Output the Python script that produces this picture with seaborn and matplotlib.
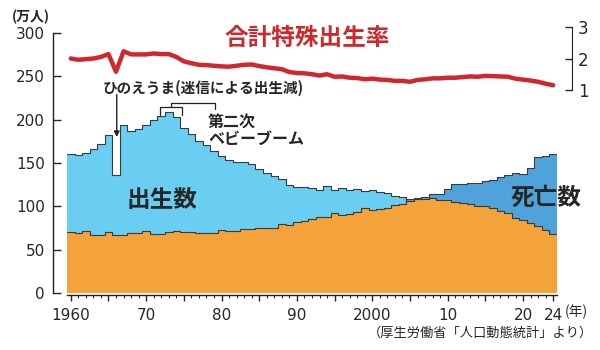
import numpy as np
import pandas as pd
import matplotlib.pyplot as plt
import seaborn as sns

# --- データ (万人) ---
YEARS = list(range(1960, 2025))

BIRTHS = [160.6, 158.9, 161.9, 165.9, 171.7, 182.4, 136.1, 193.6, 187.2, 188.9,
          193.4, 200.1, 203.9, 209.2, 203.0, 190.1, 183.3, 175.5, 170.9, 164.3,
          157.7, 152.9, 151.5, 150.9, 149.0, 143.2, 138.3, 134.7, 131.4, 124.7,
          122.2, 122.3, 120.9, 118.8, 123.8, 118.7, 120.7, 119.2, 120.3, 117.8,
          119.1, 117.1, 115.4, 112.4, 111.1, 106.3, 109.3, 109.0, 109.1, 107.0,
          107.1, 105.1, 103.7, 103.0, 100.4, 100.6, 97.7, 94.6, 91.8, 86.5,
          84.1, 81.2, 77.1, 72.7, 68.6]

DEATHS = [70.7, 69.6, 71.0, 67.1, 67.3, 70.0, 67.0, 67.5, 68.7, 69.4,
          71.3, 68.5, 68.4, 70.9, 71.1, 70.2, 70.3, 69.0, 69.6, 69.0,
          72.3, 72.0, 71.2, 74.0, 74.0, 75.2, 75.1, 75.1, 79.3, 78.9,
          82.0, 83.0, 85.7, 87.9, 87.6, 92.2, 89.6, 91.3, 93.6, 98.2,
          96.2, 97.0, 98.2, 101.5, 102.9, 108.4, 108.4, 110.9, 114.2, 114.2,
          119.7, 125.3, 125.6, 126.8, 127.3, 129.0, 130.8, 134.0, 136.2, 138.1,
          137.3, 144.0, 156.9, 157.6, 160.5]

# 合計特殊出生率
TFR = [2.00, 1.96, 1.98, 2.00, 2.05, 2.14, 1.58, 2.23, 2.13, 2.13,
       2.13, 2.16, 2.14, 2.14, 2.05, 1.91, 1.85, 1.80, 1.79, 1.77,
       1.75, 1.74, 1.77, 1.80, 1.81, 1.76, 1.72, 1.69, 1.66, 1.57,
       1.54, 1.53, 1.50, 1.46, 1.50, 1.42, 1.43, 1.39, 1.38, 1.34,
       1.36, 1.33, 1.32, 1.29, 1.29, 1.26, 1.32, 1.34, 1.37, 1.37,
       1.39, 1.39, 1.41, 1.43, 1.42, 1.45, 1.44, 1.43, 1.42, 1.36,
       1.33, 1.30, 1.26, 1.20, 1.15]

XTICKS = [1960, 1965, 1970, 1975, 1980, 1985, 1990, 1995, 2000, 2005,
          2010, 2015, 2020, 2024]
XTICK_LABELS = ["1960", "", "70", "", "80", "", "90", "", "2000", "",
                "10", "", "20", "24"]

# --- 色 ---
C_BIRTH = "#6acdf2"
C_DEATH = "#4fa3da"
C_OVER = "#f4a33b"
C_RED = "#d0272d"
JP = ["Noto Sans CJK JP", "DejaVu Sans"]

sns.set_style("white")
plt.rcParams["font.family"] = ["DejaVu Sans", "Noto Sans CJK JP"]

df = pd.DataFrame({"year": YEARS, "births": BIRTHS, "deaths": DEATHS, "tfr": TFR})
df["high"] = df[["births", "deaths"]].max(axis=1)
df["low"] = df[["births", "deaths"]].min(axis=1)
df["side"] = np.where(df["births"] >= df["deaths"], "b", "d")

fig = plt.figure(figsize=(6, 3.5), dpi=100)
ax = fig.add_axes([67 / 600, 57 / 350, 490 / 600, 273 / 350])

# 上側 (出生 or 死亡の多い方)
sns.barplot(data=df, x="year", y="high", hue="side",
            palette={"b": C_BIRTH, "d": C_DEATH}, native_scale=True,
            width=1, dodge=False, saturation=1, linewidth=0,
            errorbar=None, legend=False, ax=ax)
# 重なり部分
sns.barplot(data=df, x="year", y="low", color=C_OVER, native_scale=True,
            width=1, saturation=1, linewidth=0, errorbar=None, ax=ax)

# 輪郭 (階段状)
yrs = np.r_[df["year"].iloc[0] - 0.5, df["year"], df["year"].iloc[-1] + 0.5]
for col in ["births", "deaths"]:
    v = np.r_[df[col].iloc[0], df[col], df[col].iloc[-1]]
    ax.plot(yrs, v, drawstyle="steps-mid", color="#3a3a3a", lw=0.8)

ax.set_xlim(1959.5, 2024.5)
ax.set_ylim(0, 315)
ax.set_xlabel("")
ax.set_ylabel("")

ax.set_yticks([0, 50, 100, 150, 200, 250, 300])
ax.set_xticks(XTICKS, XTICK_LABELS)
ax.set_xticks(YEARS, minor=True)
ax.tick_params(axis="y", direction="in", length=6, width=1, pad=6,
               labelsize=11, left=True)
ax.tick_params(axis="x", which="major", direction="out", length=4, width=1,
               pad=5, labelsize=11, bottom=True)
ax.tick_params(axis="x", which="minor", direction="out", length=2.5, width=0.8,
               bottom=True)
for s in ["top", "right"]:
    ax.spines[s].set_visible(False)
ax.spines["left"].set_position(("outward", 10))
ax.spines["left"].set_bounds(0, 300)
ax.spines["bottom"].set_position(("outward", 1.5))
for s in ["left", "bottom"]:
    ax.spines[s].set_color("#222222")
    ax.spines[s].set_linewidth(1)

# 合計特殊出生率 (右軸)
ax2 = ax.twinx()
sns.lineplot(data=df, x="year", y="tfr", color=C_RED, lw=3.2, ax=ax2)
ax2.set_ylim(1 - 203 / 31.5, 3 + 7 / 31.5)
ax2.set_yticks([1, 2, 3])
ax2.set_ylabel("")
ax2.tick_params(axis="y", direction="in", length=5, width=1, pad=4,
                labelsize=12, right=True)
for s in ["top", "left", "bottom"]:
    ax2.spines[s].set_visible(False)
ax2.spines["right"].set_position(("outward", 11))
ax2.spines["right"].set_bounds(1, 3)
ax2.spines["right"].set_color("#222222")

# --- テキスト ---
fig.text(307 / 600, 1 - 38 / 350, "合計特殊出生率", color=C_RED, fontsize=17,
         fontweight="bold", ha="center", va="center", family=JP)
fig.text(12 / 600, 1 - 17 / 350, "(万人)", fontsize=10, fontweight="bold",
         ha="left", va="center", family=JP)
fig.text(593 / 600, 1 - 333 / 350, "（厚生労働省「人口動態統計」より）", fontsize=9.5,
         ha="right", va="center", family=JP)
fig.text(565 / 600, 1 - 312 / 350, "(年)", fontsize=10, ha="left", va="center",
         family=JP)

ax.text(1972.1, 107, "出生数", fontsize=17, fontweight="bold", ha="center",
        va="center", family=JP)
ax.text(2023.0, 110, "死亡数", fontsize=17, fontweight="bold", ha="center",
        va="center", family=JP, clip_on=False)

ax.annotate("", xy=(1966.1, 180), xytext=(1966.1, 229),
            arrowprops=dict(arrowstyle="-|>", color="#222222", lw=1,
                            mutation_scale=8, shrinkA=0, shrinkB=0))
ax.text(1964.3, 237, "ひのえうま(迷信による出生減)", fontsize=10.5,
        fontweight="bold", ha="left", va="center", family=JP)

# 第二次ベビーブームの括弧
ax.plot([1971.8, 1971.8, 1974.7, 1974.7], [205.4, 214.3, 214.3, 205.4],
        color="#222222", lw=0.9)
ax.plot([1973.3, 1973.3, 1979.1, 1979.1], [214.3, 219.2, 219.2, 212.3],
        color="#222222", lw=0.9)
ax.text(1978.2, 187, "第二次\nベビーブーム", fontsize=11.5, fontweight="bold",
        ha="left", va="center", family=JP, linespacing=1.0)

fig.savefig("out.png", dpi=100)
